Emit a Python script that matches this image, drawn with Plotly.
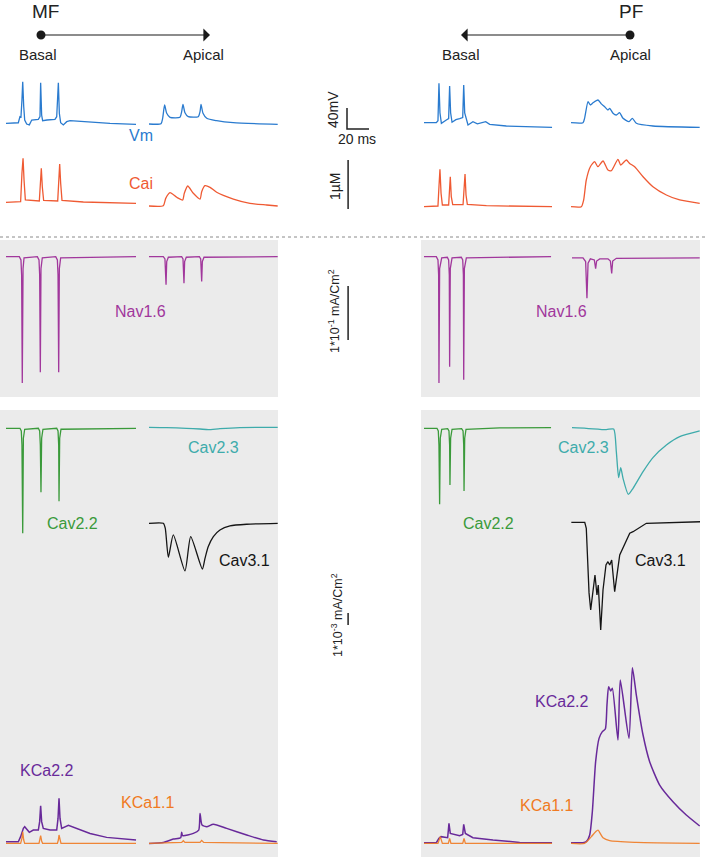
import plotly.graph_objects as go

# ---------------- DATA (time in ms) ----------------
# Membrane potential (mV)
VM_MF_BASAL_T = [0, 11.2, 12.7, 13.6, 14.5, 15.2, 16.1, 17.0, 18.8, 21.2, 23.4, 29.4, 30.9, 31.5, 32.4, 33.3, 37.3, 44.5, 46.1, 47.6, 48.5, 49.7, 52.1, 55.2, 58.2, 73.3, 94.5, 118.2]
VM_MF_BASAL = [-65, -64, -52.4, -53, -20.6, 14, -33, -58.7, -66.4, -68, -58.7, -57.4, -52.4, 12.3, -49.2, -60, -58.7, -57.4, -52.4, 12.3, -46, -63.9, -68.2, -61.9, -60, -62.5, -65, -67]
VM_MF_APICAL_T = [0, 10.9, 12.4, 14.2, 16.1, 19.1, 28.2, 29.7, 30.9, 32.7, 35.7, 44.8, 46.4, 47.3, 49.1, 52.5, 61.5, 76.6, 117]
VM_MF_APICAL = [-66.3, -65.7, -55.5, -30.1, -46, -53.6, -53.6, -42.9, -28.8, -44.8, -52.4, -52.4, -42.9, -28.8, -46, -55.5, -60, -63.9, -67]
VM_PF_BASAL_T = [0, 11.2, 12.7, 13.6, 14.5, 15.8, 20.3, 22.4, 23.3, 24.2, 25.5, 29, 32.4, 35.2, 36.1, 37.0, 40, 44.5, 48.5, 53, 56.1, 59.7, 74.8, 116.4]
VM_PF_BASAL = [-63.9, -63.9, -60, 11.2, -45, -65, -58.7, -56, 6, -45, -63, -58, -56, -54, 8, -45, -68.2, -61.9, -66, -63, -62, -67, -70.1, -72.6]
VM_PF_APICAL_T = [0, 10.9, 12.4, 15.5, 17.6, 20, 24.5, 27.5, 30.6, 33.6, 35.2, 38.2, 41.2, 44.2, 47.3, 52.7, 55.8, 59.4, 74.5, 117]
VM_PF_APICAL = [-63.9, -63.9, -55, -23.9, -30.1, -26, -20.6, -28, -33.4, -39.7, -36.4, -46, -49.2, -44.8, -55.5, -61.9, -55.5, -65, -70.1, -72.6]

# Intracellular calcium (uM)
CAI_MF_BASAL_T = [0, 13.3, 14.5, 15.5, 16.4, 17.6, 30.3, 31.2, 32.1, 33.0, 34.2, 47.0, 47.9, 48.8, 49.7, 50.9, 70.3, 118.2]
CAI_MF_BASAL = [0.146, 0.158, 0.738, 1.044, 0.601, 0.193, 0.172, 0.601, 0.84, 0.464, 0.187, 0.172, 0.668, 0.928, 0.534, 0.187, 0.152, 0.125]
CAI_MF_APICAL_T = [0, 13, 15.2, 19.1, 25.2, 30.6, 32.1, 35.2, 40.3, 46.4, 47.9, 50.9, 55.5, 61.5, 76.7, 91.8, 107, 117]
CAI_MF_APICAL = [0.07, 0.077, 0.227, 0.342, 0.248, 0.193, 0.33, 0.479, 0.33, 0.213, 0.362, 0.485, 0.452, 0.35, 0.213, 0.125, 0.091, 0.07]
CAI_PF_BASAL_T = [0, 12.7, 13.6, 14.5, 15.5, 16.7, 22.4, 23.3, 23.9, 24.8, 26.1, 35.5, 36.4, 37.3, 38.2, 39.4, 56.7, 116.4]
CAI_PF_BASAL = [0.056, 0.07, 0.464, 0.819, 0.33, 0.091, 0.091, 0.464, 0.669, 0.262, 0.097, 0.097, 0.464, 0.723, 0.295, 0.104, 0.077, 0.056]
CAI_PF_APICAL_T = [0, 9.4, 11.5, 13.9, 17.6, 21.5, 24.5, 29.1, 33.6, 36.7, 42.7, 45.2, 50.3, 53.3, 57.9, 65.5, 74.5, 86.7, 98.8, 117]
CAI_PF_APICAL = [0.056, 0.056, 0.193, 0.601, 0.872, 0.974, 0.872, 0.989, 0.805, 0.791, 1.023, 0.907, 1.009, 0.94, 0.872, 0.668, 0.464, 0.295, 0.193, 0.125]

# Nav1.6 current (mA/cm2)
NAV_MF_BASAL_T = [0, 12.1, 13.6, 14.2, 14.8, 15.5, 16.4, 28.5, 30.0, 30.6, 31.2, 31.8, 33.0, 45.2, 46.7, 47.3, 47.9, 48.5, 49.7, 118.2]
NAV_MF_BASAL = [0, 0, -0.006, -0.034, -0.234, -0.022, -0.002, 0, -0.006, -0.034, -0.214, -0.022, -0.002, 0, -0.006, -0.034, -0.214, -0.022, -0.002, 0]
NAV_MF_APICAL_T = [0, 13, 14.5, 15.5, 16.1, 17.6, 29.7, 30.9, 31.8, 32.4, 33.9, 45.8, 47.0, 47.9, 48.5, 50.0, 117]
NAV_MF_APICAL = [0, 0, -0.004, -0.052, -0.009, -0.001, 0, -0.004, -0.049, -0.009, -0.001, 0, -0.004, -0.046, -0.009, -0.001, 0]
NAV_PF_BASAL_T = [0, 11.2, 12.7, 13.3, 13.6, 14.2, 16.1, 21.2, 22.4, 23.0, 23.3, 23.9, 25.5, 33.9, 35.2, 35.8, 36.1, 36.7, 38.5, 115.5]
NAV_PF_BASAL = [0, 0, -0.006, -0.034, -0.234, -0.022, -0.002, -0.001, -0.006, -0.034, -0.204, -0.022, -0.002, -0.001, -0.006, -0.034, -0.228, -0.022, -0.002, 0]
NAV_PF_APICAL_T = [0.9, 10.9, 13.3, 14.5, 15.5, 17.6, 21.2, 22.4, 23.3, 26.1, 33.6, 35.8, 37.0, 37.9, 41.2, 117]
NAV_PF_APICAL = [-0.002, -0.002, -0.009, -0.077, -0.012, -0.004, -0.006, -0.022, -0.008, -0.004, -0.004, -0.008, -0.031, -0.008, -0.003, -0.002]

# Calcium channel currents (uA/cm2 = 1e-3 mA/cm2)
CAV22_MF_BASAL_T = [0, 12.7, 13.9, 14.5, 15.2, 15.8, 17.0, 29.4, 30.6, 31.2, 31.8, 32.4, 33.6, 46.1, 47.3, 47.9, 48.2, 48.8, 50.0, 118.2]
CAV22_MF_BASAL = [0, 0, -0.22, -1.39, -8.75, -0.83, -0.08, 0, -0.22, -1.39, -5.33, -0.83, -0.08, 0, -0.22, -1.39, -6.08, -0.83, -0.08, 0]
CAV23_MF_APICAL_T = [0, 16.1, 34, 46.4, 53.9, 64.5, 82.7, 117]
CAV23_MF_APICAL = [0.08, 0.06, 0, -0.06, -0.11, -0.03, 0.06, 0.08]
CAV31_MF_APICAL_T = [0, 13, 14.8, 17.6, 22.1, 32.7, 37.9, 48.5, 50.9, 53.9, 58.5, 64.5, 73.6, 88.8, 117]
CAV31_MF_APICAL = [0, 0, -0.42, -2.83, -0.97, -3.97, -1.11, -3.81, -2.92, -1.94, -1.11, -0.56, -0.22, -0.08, 0]
CAV22_PF_BASAL_T = [0, 11.8, 13.0, 13.6, 14.2, 14.8, 16.1, 21.5, 22.7, 23.3, 23.6, 24.2, 25.5, 34.2, 35.5, 36.1, 36.4, 37.0, 38.2, 68.8, 115.5]
CAV22_PF_BASAL = [0, 0, -0.22, -1.39, -6.33, -0.83, -0.08, -0.03, -0.22, -1.39, -4.72, -0.83, -0.08, -0.03, -0.22, -1.39, -5.22, -0.83, -0.08, 0.03, 0.06]
CAV23_PF_APICAL_T = [0.9, 13.9, 32.1, 38.8, 41.2, 43.3, 45.2, 47.3, 52.1, 56.4, 65.5, 74.5, 86.7, 98.8, 117]
CAV23_PF_APICAL = [0.05, 0, -0.11, -0.06, -1.94, -4.11, -3.28, -4.17, -5.5, -5.0, -3.61, -2.44, -1.39, -0.69, -0.22]
CAV31_PF_APICAL_T = [0.3, 12.5, 13.9, 16.4, 17.9, 20, 21.8, 23.6, 24.8, 27, 29.1, 31.8, 33.6, 35.2, 37, 39.7, 44.3, 53.4, 56.4, 68.5, 117.3]
CAV31_PF_APICAL = [0.08, 0.08, -0.42, -5.8, -7.22, -5.56, -4.31, -5.97, -5.14, -8.89, -5.56, -3.47, -3.2, -3.47, -3.06, -5.7, -2.64, -0.83, -0.7, 0, 0.13]

# Calcium-activated potassium currents (uA/cm2)
KCA22_MF_BASAL_T = [0, 11.2, 13.3, 14.5, 15.8, 17.0, 21.2, 24.8, 29.4, 30.6, 31.5, 32.4, 33.9, 40.0, 46.1, 47.3, 48.2, 49.1, 50.6, 56.7, 64.2, 76.4, 91.5, 118.2]
KCA22_MF_BASAL = [0, 0, 0.42, 0.78, 1.11, 1.25, 0.78, 0.97, 0.97, 1.67, 3.0, 1.67, 1.11, 0.97, 0.97, 1.94, 3.61, 1.94, 1.11, 1.36, 1.11, 0.69, 0.36, 0.14]
KCA11_MF_BASAL_T = [0, 13.3, 14.5, 15.2, 16.1, 17.0, 30.0, 30.9, 31.5, 32.4, 33.3, 46.7, 47.6, 48.2, 49.1, 50.0, 118.2]
KCA11_MF_BASAL = [-0.14, -0.14, 0.28, 0.83, 0.14, -0.14, -0.14, 0.14, 0.5, 0.06, -0.14, -0.14, 0.14, 0.56, 0.06, -0.14, -0.14]
KCA22_MF_APICAL_T = [0, 13, 22.1, 28.8, 29.7, 30.6, 40.3, 45.2, 46.4, 48.2, 52.5, 58.5, 70.6, 88.8, 104, 116.1]
KCA22_MF_APICAL = [-0.14, -0.06, 0.22, 0.33, 0.78, 0.5, 0.69, 0.97, 2.36, 1.39, 1.25, 1.45, 1.11, 0.56, 0.14, 0]
KCA11_MF_APICAL_T = [0, 29.7, 31.2, 32.7, 46.4, 47.9, 49.7, 117]
KCA11_MF_APICAL = [-0.14, -0.06, 0.08, -0.06, -0.06, 0.11, -0.06, -0.14]
KCA22_PF_BASAL_T = [0, 11.2, 13.6, 15.5, 21.5, 22.7, 23.9, 32.4, 35.2, 36.1, 37.6, 44.5, 62.7, 87, 116.4]
KCA22_PF_BASAL = [-0.08, -0.08, 0.28, 0.42, 0.33, 1.53, 0.69, 0.5, 0.6, 1.45, 0.69, 0.33, 0.14, -0.06, -0.08]
KCA11_PF_BASAL_T = [0, 12.7, 14.8, 16.7, 22.1, 23.3, 24.5, 35.2, 36.4, 37.6, 116.4]
KCA11_PF_BASAL = [-0.14, -0.14, 0.42, -0.14, -0.14, 0.28, -0.14, -0.14, 0.28, -0.14, -0.14]
KCA22_PF_APICAL_T = [0, 10.9, 13.9, 17, 19.4, 22.4, 25.5, 28.5, 31.2, 32.7, 34.2, 36.1, 37.6, 42.7, 44.8, 52.7, 55.8, 59.4, 65.5, 71.5, 80.6, 92.7, 104.8, 117]
KCA22_PF_APICAL = [-0.08, -0.08, 0, 0.56, 2.5, 6.67, 8.61, 9.17, 9.39, 11.39, 12.92, 12.56, 12.78, 8.47, 13.47, 8.61, 14.5, 12.22, 8.89, 6.67, 4.72, 3.33, 2.22, 1.31]
KCA11_PF_APICAL_T = [0, 12.4, 18.5, 22.4, 24.5, 29.1, 35.2, 59.4, 117]
KCA11_PF_APICAL = [-0.14, -0.14, 0.42, 0.83, 0.97, 0.33, 0.08, -0.06, -0.14]

# Scale bars (in data units)
SCALE_TIME_MS = 20
SCALE_VM_MV = 40
SCALE_CAI_UM = 1
SCALE_NAV_MA = 0.1
SCALE_CA_K_UA = 1

# ---------------- LAYOUT ----------------
W, H = 706, 857
PX_PER_MS = 1.1
FONT = "Liberation Sans, Arial, sans-serif"

C_VM = "#2a7bcf"
C_CA = "#ef5a33"
C_NAV = "#a1379c"
C_CAV22 = "#3a9a3a"
C_CAV23 = "#3eabab"
C_CAV31 = "#151515"
C_KCA22 = "#68299a"
C_KCA11 = "#f07a22"

# x axes: pixel where t=0 sits
X_AXES = {"x": 6, "x2": 149, "x3": 424, "x4": 571, "x5": 347}
# y axes: (reference value, pixel row of that value, pixels per unit)
Y_AXES = {
    "y": (-65, 123.3, 0.525),   # Vm
    "y2": (0.05, 207, 49),      # Cai
    "y3": (0, 256.7, 540),      # Nav
    "y4": (0, 428.3, 12),       # Cav2.x
    "y5": (0, 523.3, 12),       # Cav3.1
    "y6": (0, 841.7, 12),       # KCa
    "y7": (0, 129, 0.525),      # Vm scale
    "y8": (0, 209, 49),         # Cai scale
    "y9": (0, 340, 540),        # Nav scale
    "y10": (0, 625, 12),        # uA scale
}

fig = go.Figure()


def add(t, v, xa, ya, color, width=1.3, opacity=1.0, smooth=False):
    line = dict(color=color, width=width)
    if smooth:
        line.update(shape="spline", smoothing=0.6)
    fig.add_trace(go.Scatter(x=t, y=v, xaxis=xa, yaxis=ya, mode="lines",
                             line=line, opacity=opacity, hoverinfo="skip"))


# Vm
add(VM_MF_BASAL_T, VM_MF_BASAL, "x", "y", C_VM)
add(VM_MF_APICAL_T, VM_MF_APICAL, "x2", "y", C_VM, smooth=True)
add(VM_PF_BASAL_T, VM_PF_BASAL, "x3", "y", C_VM)
add(VM_PF_APICAL_T, VM_PF_APICAL, "x4", "y", C_VM, smooth=True)
# Cai
add(CAI_MF_BASAL_T, CAI_MF_BASAL, "x", "y2", C_CA)
add(CAI_MF_APICAL_T, CAI_MF_APICAL, "x2", "y2", C_CA, smooth=True)
add(CAI_PF_BASAL_T, CAI_PF_BASAL, "x3", "y2", C_CA)
add(CAI_PF_APICAL_T, CAI_PF_APICAL, "x4", "y2", C_CA, smooth=True)
# Nav
add(NAV_MF_BASAL_T, NAV_MF_BASAL, "x", "y3", C_NAV)
add(NAV_MF_APICAL_T, NAV_MF_APICAL, "x2", "y3", C_NAV)
add(NAV_PF_BASAL_T, NAV_PF_BASAL, "x3", "y3", C_NAV)
add(NAV_PF_APICAL_T, NAV_PF_APICAL, "x4", "y3", C_NAV)
# Cav
add(CAV22_MF_BASAL_T, CAV22_MF_BASAL, "x", "y4", C_CAV22)
add(CAV23_MF_APICAL_T, CAV23_MF_APICAL, "x2", "y4", C_CAV23, smooth=True)
add(CAV31_MF_APICAL_T, CAV31_MF_APICAL, "x2", "y5", C_CAV31, smooth=True)
add(CAV22_PF_BASAL_T, CAV22_PF_BASAL, "x3", "y4", C_CAV22)
add(CAV23_PF_APICAL_T, CAV23_PF_APICAL, "x4", "y4", C_CAV23, smooth=True)
add(CAV31_PF_APICAL_T, CAV31_PF_APICAL, "x4", "y5", C_CAV31)
# KCa
add(KCA22_MF_BASAL_T, KCA22_MF_BASAL, "x", "y6", C_KCA22, 1.5)
add(KCA11_MF_BASAL_T, KCA11_MF_BASAL, "x", "y6", C_KCA11, 1.3, 0.9)
add(KCA22_MF_APICAL_T, KCA22_MF_APICAL, "x2", "y6", C_KCA22, 1.5, smooth=True)
add(KCA11_MF_APICAL_T, KCA11_MF_APICAL, "x2", "y6", C_KCA11, 1.3, 0.9)
add(KCA22_PF_BASAL_T, KCA22_PF_BASAL, "x3", "y6", C_KCA22, 1.5)
add(KCA11_PF_BASAL_T, KCA11_PF_BASAL, "x3", "y6", C_KCA11, 1.3, 0.9)
add(KCA22_PF_APICAL_T, KCA22_PF_APICAL, "x4", "y6", C_KCA22, 1.5, smooth=True)
add(KCA11_PF_APICAL_T, KCA11_PF_APICAL, "x4", "y6", C_KCA11, 1.3, 0.9, smooth=True)

# Scale bars
SB = "#222222"
add([0, 0, SCALE_TIME_MS], [SCALE_VM_MV, 0, 0], "x5", "y7", SB, 1.5)
add([1, 1], [0, SCALE_CAI_UM], "x5", "y8", SB, 1.5)
add([1, 1], [0, SCALE_NAV_MA], "x5", "y9", SB, 1.5)
add([1, 1], [0, SCALE_CA_K_UA], "x5", "y10", SB, 1.5)

layout = dict(width=W, height=H, margin=dict(l=0, r=0, t=0, b=0, pad=0),
              paper_bgcolor="white", plot_bgcolor="rgba(0,0,0,0)",
              showlegend=False, hovermode=False, font=dict(family=FONT))

for k, left in X_AXES.items():
    name = "xaxis" + k[1:]
    ax = dict(domain=[0, 1], range=[-left / PX_PER_MS, (W - left) / PX_PER_MS],
              visible=False, fixedrange=True, anchor="y")
    if k != "x":
        ax["overlaying"] = "x"
    layout[name] = ax
for k, (v0, p0, kpx) in Y_AXES.items():
    name = "yaxis" + k[1:]
    ax = dict(domain=[0, 1], range=[v0 - (H - p0) / kpx, v0 + p0 / kpx],
              visible=False, fixedrange=True, anchor="x")
    if k != "y":
        ax["overlaying"] = "y"
    layout[name] = ax

fig.update_layout(**layout)


def px(x):
    return x / W


def py(y):
    return 1 - y / H


GRAY = "#ebebeb"
shapes = []
for (x0, y0, x1, y1) in [(0, 240, 278, 397), (421, 240, 700, 397), (0, 410, 278, 857), (421, 410, 700, 857)]:
    shapes.append(dict(type="rect", xref="paper", yref="paper", x0=px(x0), x1=px(x1), y0=py(y1), y1=py(y0),
                       fillcolor=GRAY, line=dict(width=0), layer="below"))
shapes.append(dict(type="line", xref="paper", yref="paper", x0=0, x1=1, y0=py(237), y1=py(237),
                   line=dict(color="#8a8a8a", width=1, dash="dot"), layer="below"))
for cx in (41, 630):
    shapes.append(dict(type="circle", xref="paper", yref="paper", x0=px(cx - 4.5), x1=px(cx + 4.5),
                       y0=py(35 + 4.5), y1=py(35 - 4.5), fillcolor="#1a1a1a", line=dict(width=0)))
fig.update_layout(shapes=shapes)

ann = []


def text(s, x, y, color="#222222", size=16, angle=0):
    ann.append(dict(text=s, x=px(x), y=py(y), xref="paper", yref="paper", showarrow=False,
                    xanchor="center", yanchor="middle", textangle=angle,
                    font=dict(family=FONT, size=size, color=color)))


text("MF", 45, 11, size=19)
text("PF", 631, 11, size=19)
text("Basal", 38, 55, size=15)
text("Apical", 203, 55, size=15)
text("Basal", 461, 55, size=15)
text("Apical", 630, 55, size=15)
text("Vm", 141, 135, C_VM)
text("Cai", 141, 183, C_CA)
text("Nav1.6", 140, 312, C_NAV)
text("Nav1.6", 561, 312, C_NAV)
text("Cav2.3", 213, 447, C_CAV23)
text("Cav2.3", 583, 447, C_CAV23)
text("Cav2.2", 72, 523, C_CAV22)
text("Cav2.2", 489, 523, C_CAV22)
text("Cav3.1", 244, 560, C_CAV31)
text("Cav3.1", 660, 560, C_CAV31)
text("KCa2.2", 46, 770, C_KCA22)
text("KCa2.2", 561, 701, C_KCA22)
text("KCa1.1", 147, 802, C_KCA11)
text("KCa1.1", 546, 805, C_KCA11)
text("40mV", 333, 110, size=14, angle=-90)
text("20 ms", 357, 139, size=14)
text("1µM", 335, 186, size=14, angle=-90)
text("1*10<sup>-1</sup> mA/Cm<sup>2</sup>", 334, 311, size=12.5, angle=-90)
text("1*10<sup>-3</sup> mA/Cm<sup>2</sup>", 337, 615, size=12.5, angle=-90)

# arrows
for head, tail in ((210, 41), (461, 630)):
    ann.append(dict(text="", x=px(head), y=py(35), xref="paper", yref="paper", showarrow=True,
                    ax=tail - head, ay=0, arrowhead=1, arrowsize=2, arrowwidth=1.1,
                    arrowcolor="#1a1a1a", standoff=0, startstandoff=0))
fig.update_layout(annotations=ann)

fig.write_html("out.html", config={"displayModeBar": False, "staticPlot": True},
               post_script="document.body.style.margin='0px';document.body.style.padding='0px';")
